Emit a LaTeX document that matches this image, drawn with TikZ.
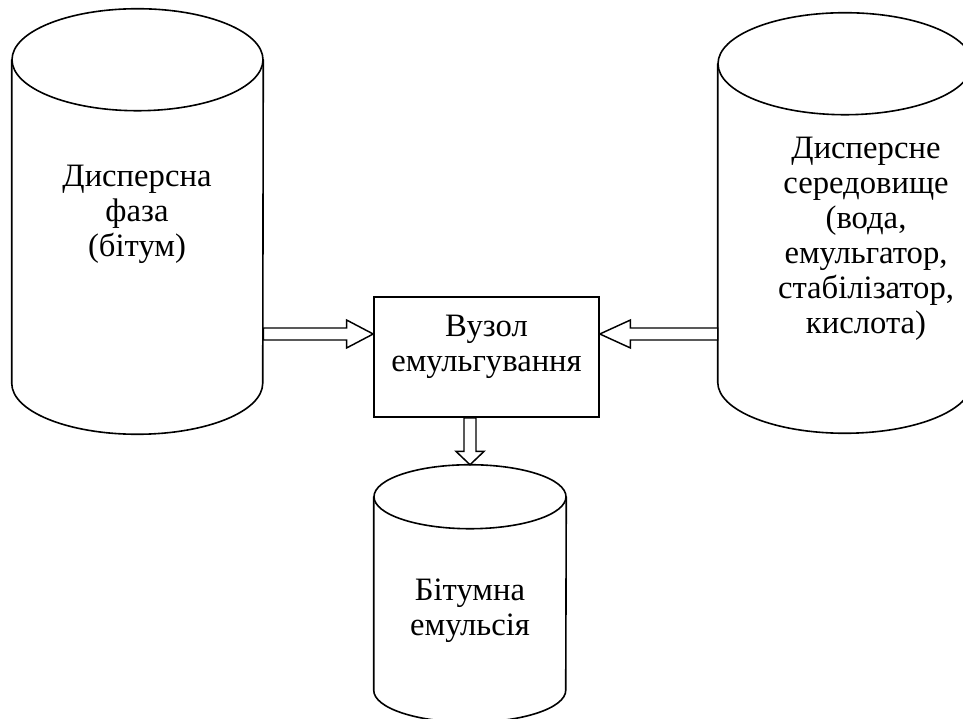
\documentclass[tikz,border=0pt]{standalone}
\usepackage{fontspec}
\setmainfont{Liberation Serif}
\usepackage{tikz}
\usetikzlibrary{calc}
\definecolor{inkblack}{HTML}{000000}
\definecolor{pagewhite}{HTML}{FFFFFF}
\newcommand{\diagramtext}{\fontsize{24.5}{26.25}\selectfont}

% vertical drum outline round a body node: #1 node, #2 x radius, #3 y radius
\newcommand{\drawdrum}[3]{%
  \draw[drumline] (#1.north west) -- (#1.south west) arc[start angle=180,end angle=360,x radius=#2,y radius=#3] -- (#1.north east);
  \draw[drumline] (#1.north) ellipse[x radius=#2,y radius=#3];
}
% hollow block arrow: #1 head length, #2 start, #3 tip
\newcommand{\hollowarrow}[3]{%
  \path ($(#3)!#1!(#2)$) coordinate (hb);
  \draw[flowline] ($(#2)!4.5pt!90:(#3)$) -- ($(hb)!4.5pt!-90:(#2)$) -- ($(hb)!10.5pt!-90:(#2)$) -- (#3)
    -- ($(hb)!10.5pt!90:(#2)$) -- ($(hb)!4.5pt!90:(#2)$) -- ($(#2)!4.5pt!-90:(#3)$) -- cycle;
}

\tikzset{
  drumline/.style={draw=inkblack,line width=1.2pt},
  flowline/.style={draw=inkblack,fill=pagewhite,line width=1.1pt,line join=miter},
  drumbody/.style={rectangle,inner sep=0pt},
  drumlabel/.style={align=center,inner sep=0pt,font=\diagramtext},
  unitbox/.style={draw=inkblack,line width=1.2pt,rectangle,inner sep=0pt,minimum width=168.75pt,minimum height=90pt}
}

\begin{document}
\begin{tikzpicture}[x=0.75pt,y=0.75pt]
\useasboundingbox[fill=pagewhite] (0,0) rectangle (963,718);

\node[drumbody,minimum width=188.25pt,minimum height=242.25pt] (phase) at (137.5,496.5) {};
\node[drumbody,minimum width=190.5pt,minimum height=238.5pt] (medium) at (845,495) {};
\node[drumbody,minimum width=144pt,minimum height=144.75pt] (product) at (470,124.5) {};
\node[unitbox] (emul) at (486.5,361) {};

\drawdrum{phase}{125.5}{51}
\drawdrum{medium}{127}{51}
\drawdrum{product}{96}{32}

\node[drumlabel] (phasetext) at (137,504) {Дисперсна\\фаза\\(бітум)};
\node[drumlabel] (mediumtext) at (866,479.5) {Дисперсне\\середовище\\(вода,\\емульгатор,\\стабілізатор,\\кислота)};
\node[drumlabel] (producttext) at (470,107.5) {Бітумна\\емульсія};
\node[drumlabel] (emultext) at (486.5,371) {Вузол\\емульгування};

\coordinate (lin) at ([yshift=17.25pt]emul.west);
\coordinate (rin) at ([yshift=17.25pt]emul.east);
\coordinate (ptop) at ([yshift=24pt]product.north);

\hollowarrow{20pt}{phase.east |- lin}{lin}
\hollowarrow{23pt}{medium.west |- rin}{rin}
\hollowarrow{10pt}{emul.south -| ptop}{ptop}
\end{tikzpicture}
\end{document}
